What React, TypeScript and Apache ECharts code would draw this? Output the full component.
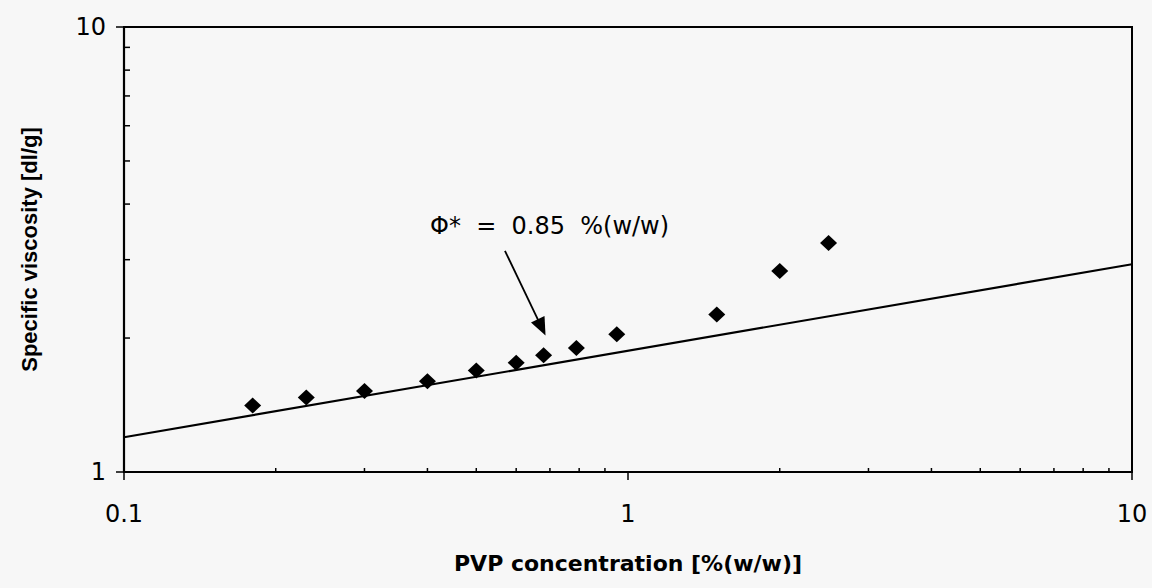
import React, { useEffect, useRef } from "react";
import * as echarts from "echarts";

const concentration = [0.18, 0.23, 0.3, 0.4, 0.5, 0.6, 0.68, 0.79, 0.95, 1.5, 2.0, 2.5];
const viscosity = [1.41, 1.47, 1.52, 1.6, 1.69, 1.76, 1.83, 1.9, 2.04, 2.26, 2.83, 3.27];
const fitLineX = [0.1, 10];
const fitLineY = [1.197, 2.93];
const arrowStart = [0.57, 3.14];
const arrowEnd = [0.674, 2.114];
const xMinorTicks = [0.2, 0.3, 0.4, 0.5, 0.6, 0.7, 0.8, 0.9, 2, 3, 4, 5, 6, 7, 8, 9];
const yMinorTicks = [2, 3, 4, 5, 6, 7, 8, 9];
const annotationText = "Φ*  =  0.85  %(w/w)";

export default function App() {
  const ref = useRef<HTMLDivElement>(null);
  useEffect(() => {
    if (!ref.current) return;
    const chart = echarts.init(ref.current, null, { renderer: "svg" });
    const bg = "#f7f7f7";
    chart.setOption({
      animation: false,
      backgroundColor: bg,
      grid: {
        left: 124,
        right: 20,
        top: 27,
        bottom: 116,
        show: true,
        borderColor: "#000",
        borderWidth: 2,
        backgroundColor: "transparent",
      },
      xAxis: {
        type: "log",
        logBase: 10,
        min: 0.1,
        max: 10,
        interval: 1,
        name: "PVP concentration [%(w/w)]",
        nameLocation: "middle",
        nameGap: 80,
        nameTextStyle: { fontFamily: "DejaVu Sans", fontWeight: "bold", fontSize: 22, color: "#000" },
        axisLine: { show: true, lineStyle: { color: "#000", width: 2.2 } },
        axisTick: { show: true, inside: false, length: 8, lineStyle: { color: "#000", width: 1.5 } },
        minorTick: { show: false },
        splitLine: { show: false },
        axisLabel: {
          fontFamily: "DejaVu Sans",
          fontSize: 24,
          color: "#000",
          margin: 30,
          formatter: (v: number) => String(v),
        },
      },
      yAxis: {
        type: "log",
        logBase: 10,
        min: 1,
        max: 10,
        interval: 1,
        name: "Specific viscosity [dl/g]",
        nameLocation: "middle",
        nameRotate: 90,
        nameGap: 84,
        nameTextStyle: { fontFamily: "Liberation Sans", fontWeight: "bold", fontSize: 22, color: "#000" },
        axisLine: { show: true, lineStyle: { color: "#000", width: 2.2 } },
        axisTick: { show: true, inside: false, length: 8, lineStyle: { color: "#000", width: 1.5 } },
        splitLine: { show: false },
        axisLabel: {
          fontFamily: "DejaVu Sans",
          fontSize: 24,
          color: "#000",
          margin: 18,
          formatter: (v: number) => String(v),
        },
      },
      series: [
        {
          type: "line",
          data: fitLineX.map((x, i) => [x, fitLineY[i]]),
          symbol: "none",
          lineStyle: { color: "#000", width: 2.2 },
          silent: true,
          z: 2,
        },
        {
          type: "scatter",
          data: concentration.map((x, i) => [x, viscosity[i]]),
          symbol: "diamond",
          symbolSize: [17, 16],
          itemStyle: { color: "#000", opacity: 1 },
          z: 3,
          markLine: {
            silent: true,
            symbol: ["none", "triangle"],
            symbolSize: [15, 18],
            label: { show: false },
            lineStyle: { color: "#000", width: 1.8, type: "solid", opacity: 1 },
            itemStyle: { color: "#000" },
            data: [[{ coord: arrowStart }, { coord: arrowEnd }]],
          },
        },
        {
          type: "custom",
          silent: true,
          clip: false,
          data: xMinorTicks.map((v) => [v, 1]),
          renderItem: (params: any, api: any) => {
            const p = api.coord([api.value(0), api.value(1)]);
            return {
              type: "line",
              shape: { x1: p[0], y1: p[1], x2: p[0], y2: p[1] - 4 },
              style: { stroke: "#000", lineWidth: 1.5 },
            };
          },
          z: 4,
        },
        {
          type: "custom",
          silent: true,
          clip: false,
          data: yMinorTicks.map((v) => [0.1, v]),
          renderItem: (params: any, api: any) => {
            const p = api.coord([api.value(0), api.value(1)]);
            return {
              type: "line",
              shape: { x1: p[0], y1: p[1], x2: p[0] + 6, y2: p[1] },
              style: { stroke: "#000", lineWidth: 1.5 },
            };
          },
          z: 4,
        },
      ],
      graphic: [
        {
          type: "text",
          left: 430,
          top: 214,
          style: {
            text: annotationText,
            fontFamily: "DejaVu Sans",
            fontSize: 24,
            fill: "#000",
          },
        },
      ],
    });
    return () => chart.dispose();
  }, []);
  return (
    <div
      ref={ref}
      style={{ position: "absolute", left: 0, top: 0, width: 1152, height: 588, background: "#f7f7f7" }}
    />
  );
}
